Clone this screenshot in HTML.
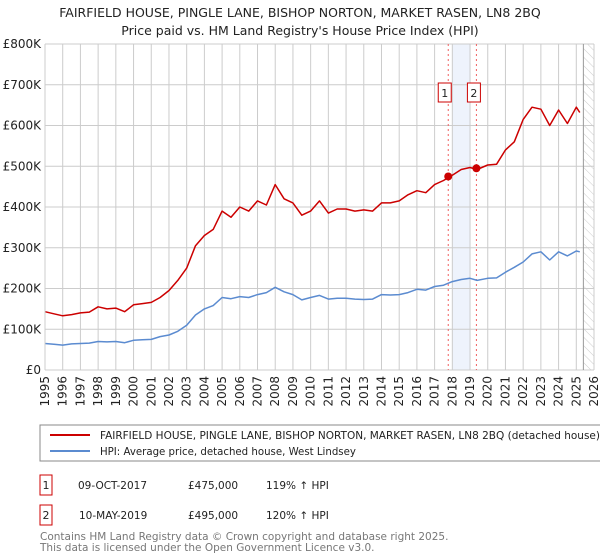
<!DOCTYPE html>
<html><head><meta charset="utf-8"><style>
body{margin:0;background:#fff;font-family:"DejaVu Sans","Liberation Sans",sans-serif;}
#wrap{position:relative;width:600px;height:560px;overflow:hidden}
</style></head><body>
<div id="wrap">
<svg id="svg" width="600" height="560" xmlns="http://www.w3.org/2000/svg" font-family="DejaVu Sans, Liberation Sans, sans-serif">
<defs><pattern id="hatch" width="6" height="6" patternUnits="userSpaceOnUse" patternTransform="rotate(-45)"><line x1="0" y1="0" x2="0" y2="6" stroke="#ccc" stroke-width="1"/></pattern></defs>
<text x="300" y="17" text-anchor="middle" font-size="12.5" fill="#222">FAIRFIELD HOUSE, PINGLE LANE, BISHOP NORTON, MARKET RASEN, LN8 2BQ</text>
<text x="300" y="35" text-anchor="middle" font-size="12.5" fill="#222">Price paid vs. HM Land Registry's House Price Index (HPI)</text>
<g id="plot"></g>
<rect x="40" y="425" width="570" height="36" fill="#fff" stroke="#888"/>
<line x1="50" y1="435" x2="90" y2="435" stroke="#cc0000" stroke-width="2"/>
<text x="100" y="439" font-size="10.2" fill="#222" textLength="500" lengthAdjust="spacingAndGlyphs">FAIRFIELD HOUSE, PINGLE LANE, BISHOP NORTON, MARKET RASEN, LN8 2BQ (detached house)</text>
<line x1="50" y1="451" x2="90" y2="451" stroke="#5b8bd0" stroke-width="2"/>
<text x="100" y="455" font-size="10.2" fill="#222">HPI: Average price, detached house, West Lindsey</text>
<rect x="40" y="475" width="12" height="20" fill="#fff" stroke="#cc0000"/>
<text x="46" y="489" text-anchor="middle" font-size="11" fill="#222">1</text>
<text x="78" y="489" font-size="10.5" fill="#222">09-OCT-2017</text>
<text x="188" y="489" font-size="10.5" fill="#222">£475,000</text>
<text x="266" y="489" font-size="10.5" fill="#222">119% ↑ HPI</text>
<rect x="40" y="505" width="12" height="20" fill="#fff" stroke="#cc0000"/>
<text x="46" y="519" text-anchor="middle" font-size="11" fill="#222">2</text>
<text x="79" y="519" font-size="10.5" fill="#222">10-MAY-2019</text>
<text x="188" y="519" font-size="10.5" fill="#222">£495,000</text>
<text x="266" y="519" font-size="10.5" fill="#222">120% ↑ HPI</text>
<text x="40" y="540" font-size="10.5" fill="#777">Contains HM Land Registry data © Crown copyright and database right 2025.</text>
<text x="40" y="551" font-size="10.5" fill="#777">This data is licensed under the Open Government Licence v3.0.</text>
</svg></div>
<script>
const hpiYears=[1995,1995.5,1996,1996.5,1997,1997.5,1998,1998.5,1999,1999.5,2000,2000.5,2001,2001.5,2002,2002.5,2003,2003.5,2004,2004.5,2005,2005.5,2006,2006.5,2007,2007.5,2008,2008.5,2009,2009.5,2010,2010.5,2011,2011.5,2012,2012.5,2013,2013.5,2014,2014.5,2015,2015.5,2016,2016.5,2017,2017.5,2018,2018.5,2019,2019.4,2020,2020.5,2021,2021.5,2022,2022.5,2023,2023.5,2024,2024.5,2025,2025.2];
const hpiValues=[65,63,61,64,65,66,70,69,70,67,73,74,75,82,86,95,110,135,150,158,178,175,180,178,185,190,203,192,185,172,178,183,174,176,176,174,173,174,185,184,185,190,198,196,205,208,217,222,225,220,225,226,240,252,265,285,290,270,290,280,292,290];
const priceYears=hpiYears;
const priceValues=[143,138,133,136,140,142,155,150,152,143,160,163,166,178,195,220,250,305,330,345,390,375,400,390,415,405,455,420,410,380,390,415,385,395,395,390,393,390,410,410,415,430,440,435,455,465,478,492,497,492,503,505,540,560,615,645,640,600,638,605,645,632];
const saleYears=[2017.77,2019.36];
const saleValues=[475,495];
const yTicks=[0,100,200,300,400,500,600,700,800];
const yTickLabels=["£0","£100K","£200K","£300K","£400K","£500K","£600K","£700K","£800K"];
const xTicks=[1995,1996,1997,1998,1999,2000,2001,2002,2003,2004,2005,2006,2007,2008,2009,2010,2011,2012,2013,2014,2015,2016,2017,2018,2019,2020,2021,2022,2023,2024,2025,2026];

const X0=45,X1=594,Y0=370,Y1=44;
const xs=v=>X0+(v-1995)/(2026-1995)*(X1-X0);
const ys=v=>Y0-(v/800)*(Y0-Y1);
const NS="http://www.w3.org/2000/svg";
const g=document.getElementById('plot');
function mk(tag,attrs){const e=document.createElementNS(NS,tag);for(const k in attrs)e.setAttribute(k,attrs[k]);g.appendChild(e);return e;}
let e=mk('rect',{x:xs(2018),y:Y1,width:xs(2019)-xs(2018),height:Y0-Y1,fill:'#eef3fc'});


e=mk('rect',{x:xs(2025.4),y:Y1,width:X1-xs(2025.4),height:Y0-Y1,fill:'url(#hatch)'});


yTicks.forEach((t,i)=>{
 e=mk('line',{x1:X0,x2:X1,y1:ys(t),y2:ys(t),stroke:'#ccc','stroke-width':1});
 
 
 e=mk('text',{x:X0-4,y:ys(t)+4,'text-anchor':'end','font-size':12,fill:'#222'});
 e.textContent=yTickLabels[i];
 
 
});
xTicks.forEach(t=>{
 e=mk('line',{x1:xs(t),x2:xs(t),y1:Y1,y2:Y0,stroke:'#ccc','stroke-width':1});
 
 
 e=mk('text',{x:0,y:0,'text-anchor':'end','font-size':12,fill:'#222',transform:`translate(${xs(t)+4},${Y0+6}) rotate(-90)`});
 e.textContent=t;
 
 
});
e=mk('line',{x1:xs(2025.4),x2:xs(2025.4),y1:Y1,y2:Y0,stroke:'#999','stroke-width':1});


saleYears.forEach((y,i)=>{
 e=mk('line',{x1:xs(y),x2:xs(y),y1:Y1,y2:Y0,stroke:'#f06060','stroke-width':1,'stroke-dasharray':'2,3'});
 
 
 const bx=xs(y)+(i==0?-10:-9);
 e=mk('rect',{x:bx,y:83,width:13,height:19,fill:'#fff',stroke:'#cc0000'});
 
 
 e=mk('text',{x:bx+6.5,y:97,'text-anchor':'middle','font-size':11,fill:'#222'});
 e.textContent=String(i+1);
 
 
});
function line(xv,yv,color,name){
 e=mk('polyline',{points:xv.map((x,i)=>xs(x).toFixed(1)+','+ys(yv[i]).toFixed(1)).join(' '),fill:'none',stroke:color,'stroke-width':1.5,'stroke-linejoin':'round'});
 
 
}
line(hpiYears,hpiValues,'#5b8bd0','hpi-line');
line(priceYears,priceValues,'#cc0000','property-price-line');
saleYears.forEach((y,i)=>{
 e=mk('circle',{cx:xs(y),cy:ys(saleValues[i]),r:4,fill:'#cc0000'});
 
 
});
e=mk('line',{x1:X0,x2:X0,y1:Y1,y2:Y0,stroke:'#ccc'});


</script>
</body></html>
